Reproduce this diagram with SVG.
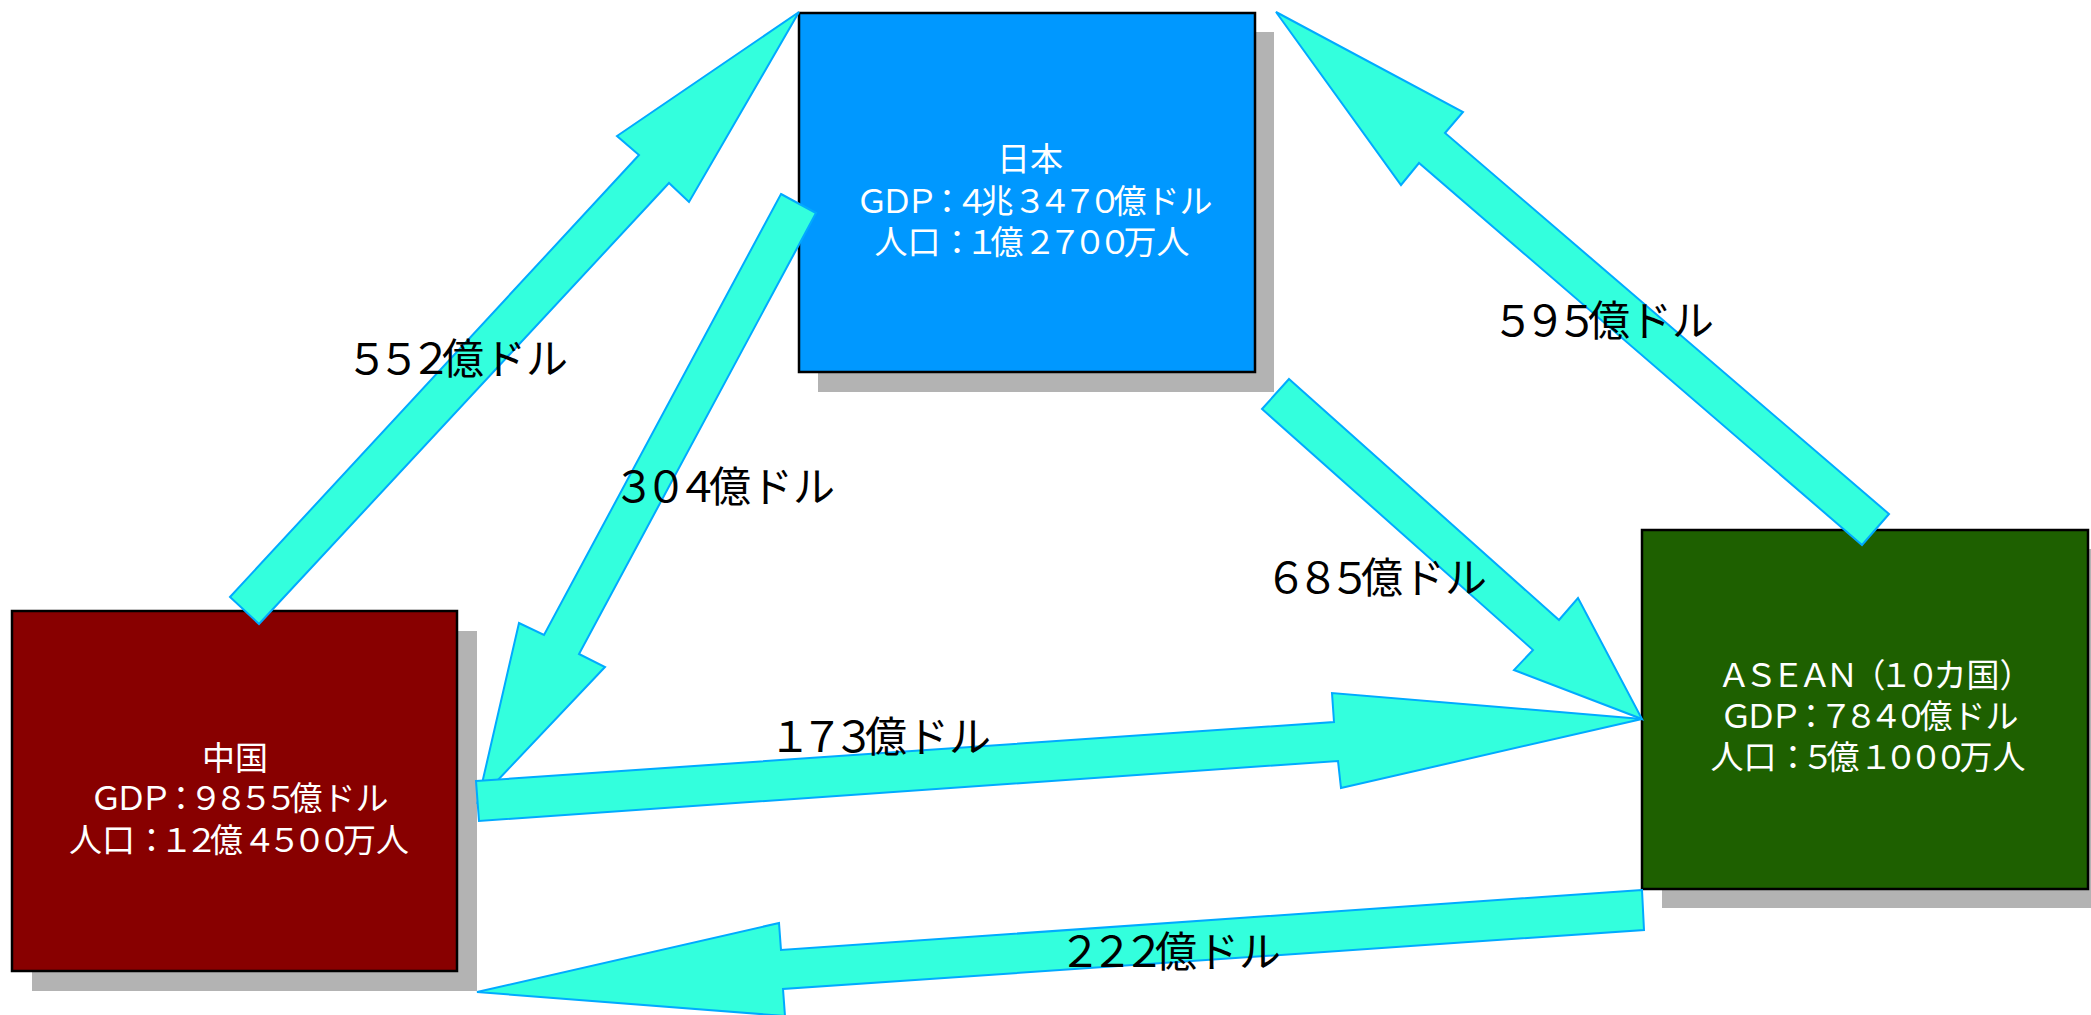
<svg xmlns="http://www.w3.org/2000/svg" width="2091" height="1015" viewBox="0 0 2091 1015">
<style>
.shadow{fill:#b3b3b3}
.box{stroke:#000;stroke-width:2.5}
.ntext{font-family:"Noto Sans CJK JP","Noto Sans",sans-serif;font-size:33px;fill:#fff;text-anchor:middle}
.fw{letter-spacing:-8px}
.fw2{letter-spacing:-6px}
.arrow{fill:#33ffdd;stroke:#00aaff;stroke-width:2;stroke-linejoin:miter}
.label{font-family:"Noto Sans CJK JP","Noto Sans",sans-serif;font-size:42px;fill:#000;text-anchor:middle}
.lfw{letter-spacing:-10px}
</style>
<rect width="2091" height="1015" fill="#fff"/>
<g id="node-japan">
<rect class="shadow" x="818" y="32" width="456" height="360"/>
<rect class="box" x="799" y="13" width="456" height="359" fill="#0098ff"/>
<text class="ntext"><tspan x="1030" y="171">日本</tspan><tspan x="1034" y="213"><tspan class="fw">ＧＤＰ：４</tspan>兆<tspan class="fw">３４７０</tspan>億ドル</tspan><tspan x="1032" y="254">人口<tspan class="fw">：１</tspan>億<tspan class="fw">２７００</tspan>万人</tspan></text>
</g>
<g id="node-china">
<rect class="shadow" x="32" y="631" width="445" height="360"/>
<rect class="box" x="12" y="611" width="445" height="360" fill="#880000"/>
<text class="ntext"><tspan x="235" y="770">中国</tspan><tspan x="239" y="810"><tspan class="fw">ＧＤＰ：９８５５</tspan>億ドル</tspan><tspan x="239" y="852">人口<tspan class="fw">：１２</tspan>億<tspan class="fw">４５００</tspan>万人</tspan></text>
</g>
<g id="node-asean">
<rect class="shadow" x="1662" y="549" width="446" height="359"/>
<rect class="box" x="1642" y="530" width="446" height="359" fill="#1e6000"/>
<text class="ntext"><tspan x="1872" y="687"><tspan class="fw2">ＡＳＥＡＮ（１０</tspan>カ国<tspan class="fw2">）</tspan></tspan><tspan x="1869" y="728"><tspan class="fw">ＧＤＰ：７８４０</tspan>億ドル</tspan><tspan x="1868" y="769">人口<tspan class="fw">：５</tspan>億<tspan class="fw">１０００</tspan>万人</tspan></text>
</g>
<g id="connectors">
<polygon id="arrow-china-japan" class="arrow" points="230,597 639,155 617,136 799,12 689,202 669,183 259,624"/>
<polygon id="arrow-japan-china" class="arrow" points="781,194 816,213 579,654 605,667 478,801 519,623 544,635"/>
<polygon id="arrow-asean-japan" class="arrow" points="1889,514 1445,133 1463,112 1276,12 1401,185 1419,163 1862,545"/>
<polygon id="arrow-japan-asean" class="arrow" points="1289,379 1559,620 1578,598 1642,719 1514,670 1533,650 1262,409"/>
<polygon id="arrow-china-asean" class="arrow" points="476,781 1334,722 1332,693 1642,719 1341,788 1338,761 479,821"/>
<polygon id="arrow-asean-china" class="arrow" points="1642,890 781,950 779,923 477,992 785,1016 783,989 1644,930"/>
</g>
<g id="labels">
<text class="label" x="457" y="374"><tspan class="lfw">５５２</tspan>億ドル</text>
<text class="label" x="724" y="502"><tspan class="lfw">３０４</tspan>億ドル</text>
<text class="label" x="1603" y="336"><tspan class="lfw">５９５</tspan>億ドル</text>
<text class="label" x="1376" y="593"><tspan class="lfw">６８５</tspan>億ドル</text>
<text class="label" x="880" y="752"><tspan class="lfw">１７３</tspan>億ドル</text>
<text class="label" x="1170" y="967"><tspan class="lfw">２２２</tspan>億ドル</text>
</g>
</svg>
